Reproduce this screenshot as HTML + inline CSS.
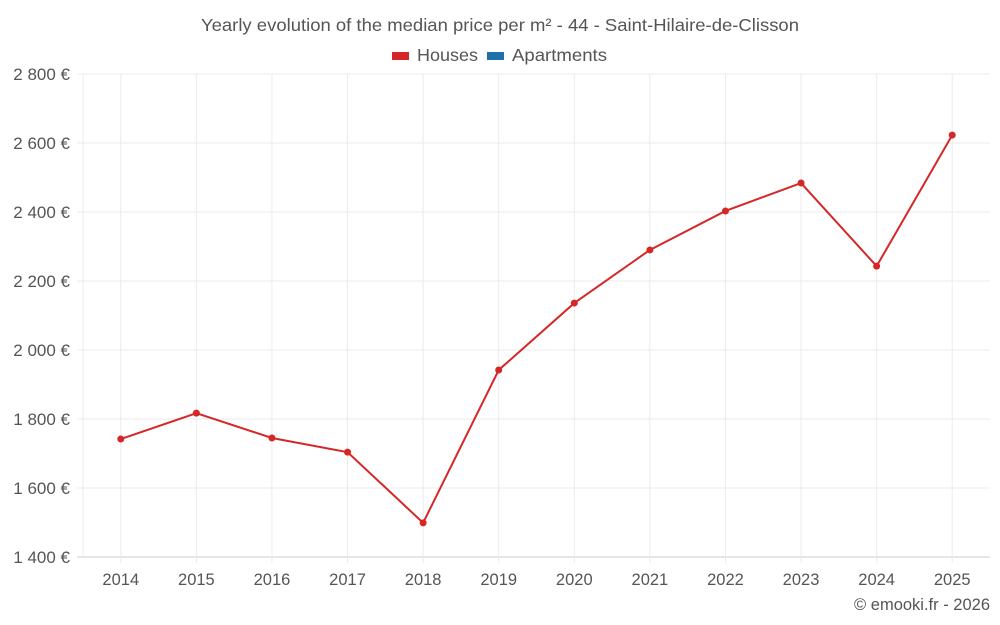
<!DOCTYPE html>
<html><head><meta charset="utf-8"><style>
body{margin:0;background:#fff;font-family:"Liberation Sans",sans-serif;}
svg{display:block}
</style></head><body>
<svg id="chart" width="1000" height="625">
<text x="201" y="31" textLength="598" lengthAdjust="spacingAndGlyphs" font-size="17.5" fill="#555">Yearly evolution of the median price per m² - 44 - Saint-Hilaire-de-Clisson</text>
<g><rect x="392" y="52" width="17" height="8" fill="#d62728"/><text x="417" y="61" font-size="17.5" textLength="61" lengthAdjust="spacingAndGlyphs" fill="#555">Houses</text></g>
<g><rect x="487" y="52" width="17" height="8" fill="#1f6fa8"/><text x="512" y="61" font-size="17.5" textLength="95" lengthAdjust="spacingAndGlyphs" fill="#555">Apartments</text></g>
<g id="grid"></g><g id="axes"></g><g id="series"></g>
<text x="990" y="610" text-anchor="end" font-size="16.5" fill="#555">© emooki.fr - 2026</text>
</svg>
<script>
const years=[2014,2015,2016,2017,2018,2019,2020,2021,2022,2023,2024,2025];
const houses=[1742,1817,1745,1704,1499,1942,2136,2290,2403,2484,2243,2623];
const yTicks=[1400,1600,1800,2000,2200,2400,2600,2800];
const yTickLabels=["1 400 €","1 600 €","1 800 €","2 000 €","2 200 €","2 400 €","2 600 €","2 800 €"];
const L=83,R=990,T=74,B=557,yMin=1400,yMax=2800;
const bw=(R-L)/years.length;
const x=i=>L+bw*(i+0.5);
const y=v=>B-(v-yMin)/(yMax-yMin)*(B-T);
const NS="http://www.w3.org/2000/svg";
function mk(tag,at,parent){const e=document.createElementNS(NS,tag);for(const k in at)e.setAttribute(k,at[k]);document.getElementById(parent).appendChild(e);return e;}
yTicks.forEach((t,i)=>{
 const g=mk('line',{x1:L-6,x2:R,y1:y(t),y2:y(t),stroke:t===yMin?'#ccc':'#ebebeb'},'grid');
 
 
 const tx=mk('text',{x:70,y:y(t)+6,'text-anchor':'end','font-size':17,fill:'#555'},'axes');
 tx.textContent=yTickLabels[i];
 
 
});
const ax=mk('line',{x1:L,x2:L,y1:T,y2:B,stroke:'#ebebeb'},'grid');


years.forEach((yr,i)=>{
 const g=mk('line',{x1:x(i),x2:x(i),y1:T,y2:B+6,stroke:'#ebebeb'},'grid');
 
 
 const tx=mk('text',{x:x(i),y:585,'text-anchor':'middle','font-size':16.5,fill:'#555'},'axes');
 tx.textContent=yr;
 
 
});
const pl=mk('polyline',{points:houses.map((v,i)=>x(i)+','+y(v)).join(' '),fill:'none',stroke:'#d62728','stroke-width':2},'series');


houses.forEach((v,i)=>{
 const c=mk('circle',{cx:x(i),cy:y(v),r:3.5,fill:'#d62728'},'series');
 
 
});
</script>
</body></html>
